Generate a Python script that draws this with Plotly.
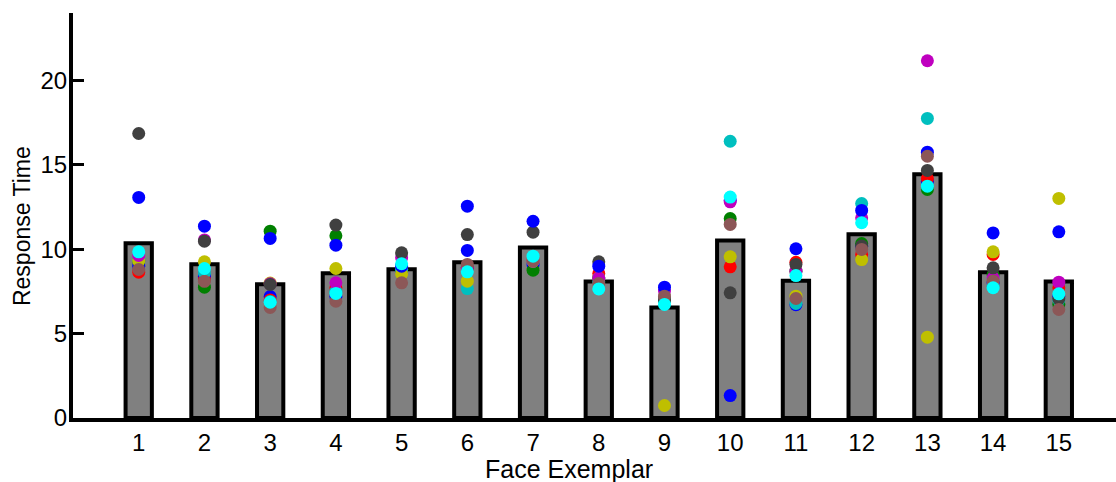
import plotly.graph_objects as go

exemplars = list(range(1, 16))
tick_labels = [str(i) for i in exemplars]
bar_means = [10.35, 9.11, 7.93, 8.58, 8.82, 9.23, 10.1, 8.09, 6.55, 10.52, 8.13, 10.89, 14.45, 8.64, 8.09]

subj_blue2 = [9.0, 8.4, 7.2, 7.2, 8.8, 9.93, 9.1, 8.3, 7.0, 12.9, 6.71, 10.18, 14.03, 8.0, 7.2]
subj_red = [8.64, 8.2, 7.0, 7.72, 8.8, 8.9, 9.3, 8.56, 7.0, 8.96, 9.23, 9.69, 14.19, 9.69, 7.72]
subj_green = [9.3, 7.75, 11.07, 10.8, 8.8, 8.9, 8.76, 8.3, 7.0, 11.82, 8.7, 10.34, 13.54, 8.50, 6.73]
subj_teal = [9.39, 8.6, 6.9, 7.5, 8.8, 7.67, 9.29, 8.07, 7.0, 16.40, 6.79, 12.71, 17.75, 7.8, 7.0]
subj_magenta = [9.63, 10.55, 7.95, 8.01, 9.49, 8.9, 9.3, 8.3, 7.52, 12.81, 8.70, 11.86, 21.17, 8.3, 8.05]
subj_yellow = [9.3, 9.26, 8.0, 8.86, 8.54, 8.11, 9.3, 8.3, 0.74, 9.55, 7.22, 9.39, 4.79, 9.85, 13.01]
subj_darkgray = [16.86, 10.48, 7.91, 11.43, 9.79, 10.87, 11.01, 9.26, 7.0, 7.42, 9.10, 10.2, 14.67, 8.90, 7.06]
subj_blue = [13.07, 11.37, 10.64, 10.24, 9.0, 12.55, 11.66, 9.0, 7.75, 1.33, 10.03, 12.30, 15.75, 10.97, 11.03]
subj_brown = [8.80, 8.1, 6.55, 6.92, 8.01, 9.10, 9.3, 7.97, 7.22, 11.47, 7.08, 9.99, 15.51, 8.11, 6.43]
subj_cyan = [9.85, 8.86, 6.86, 7.38, 9.14, 8.66, 9.59, 7.65, 6.73, 13.09, 8.44, 11.57, 13.74, 7.72, 7.36]

subjects = [
    (subj_blue2, "#0000ff"),
    (subj_red, "#ff0000"),
    (subj_green, "#008000"),
    (subj_teal, "#00bfbf"),
    (subj_yellow, "#bfbf00"),
    (subj_magenta, "#bf00bf"),
    (subj_darkgray, "#404040"),
    (subj_blue, "#0000ff"),
    (subj_brown, "#8c5757"),
    (subj_cyan, "#00ffff"),
]

fig = go.Figure()
fig.add_trace(go.Bar(
    x=exemplars, y=bar_means, width=0.4,
    marker=dict(color="#808080", line=dict(color="black", width=4)),
    showlegend=False,
))
for vals, col in subjects:
    fig.add_trace(go.Scatter(
        x=exemplars, y=vals, mode="markers",
        marker=dict(color=col, size=13, line=dict(width=0)),
        showlegend=False,
    ))

font = "Liberation Sans, Arial, Helvetica, sans-serif"
fig.update_layout(
    width=1116, height=482,
    margin=dict(l=73, r=0, t=13, b=64),
    paper_bgcolor="white", plot_bgcolor="white",
    font=dict(family=font, size=24, color="black"),
    xaxis=dict(
        range=[0, 15.87], tickmode="array", tickvals=exemplars, ticktext=tick_labels,
        showline=True, linecolor="black", linewidth=4, showgrid=False, zeroline=False,
        ticks="", tickfont=dict(size=24),
    ),
    yaxis=dict(
        range=[0, 24], tickvals=[0, 5, 10, 15, 20],
        showline=True, linecolor="black", linewidth=4, showgrid=False, zeroline=False,
        ticks="inside", ticklen=11, tickwidth=3, tickcolor="black",
        tickfont=dict(size=24), ticklabelstandoff=-3,
    ),
    annotations=[
        dict(text="Face Exemplar", xref="paper", yref="paper", x=0.4755, y=-0.127,
             xanchor="center", yanchor="middle", showarrow=False, font=dict(size=25)),
        dict(text="Response Time", xref="paper", yref="paper", x=-0.0489, y=0.474,
             xanchor="center", yanchor="middle", textangle=-90, showarrow=False,
             font=dict(size=23)),
    ],
)
fig.write_html("out.html", config={"displayModeBar": False},
               post_script="document.body.style.margin='0px';document.body.style.overflow='hidden';")
